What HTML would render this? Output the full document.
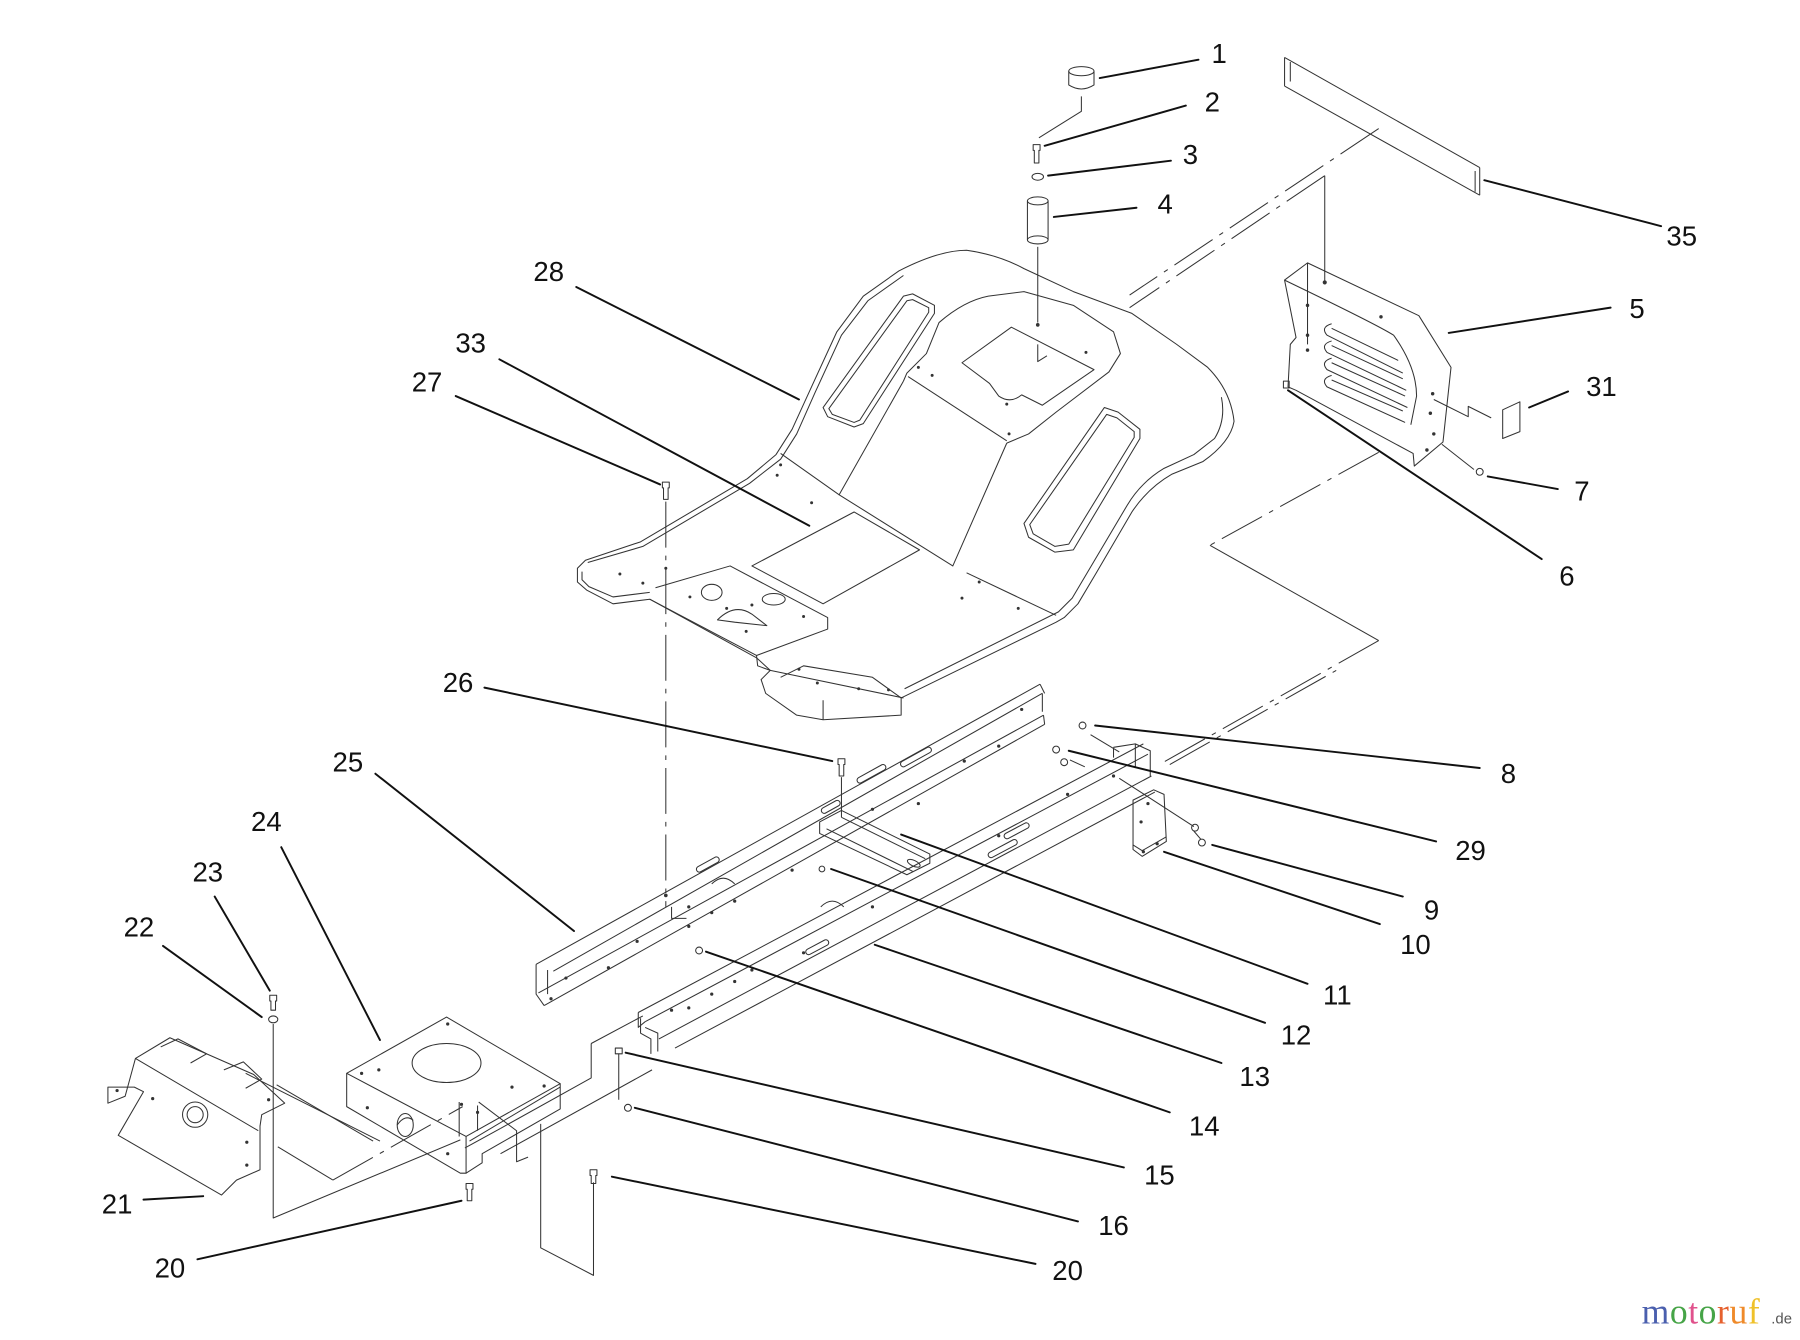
<!DOCTYPE html>
<html><head><meta charset="utf-8"><style>
html,body{margin:0;padding:0;background:#fff;}
svg{display:block;}
text{font-family:"Liberation Sans",Arial,sans-serif;fill:#111;}
</style></head><body>
<svg width="1800" height="1340" viewBox="0 0 1568 1167.3" preserveAspectRatio="none" xmlns="http://www.w3.org/2000/svg">
<rect x="0" y="0" width="1568" height="1167.3" fill="#fff"/>

<!-- ===== PARTS (thin lines) ===== -->
<g stroke="#333" stroke-width="0.9" fill="none" stroke-linejoin="round">
  <!-- Fender / seat deck 28 outer -->
  <path d="M503,495 L510,488 L558,472 L651,417 L676,396 L690,374 L706,339 L729,289 L752,258 L783,236 Q818,218 842,218 Q870,222 892,234 L935,254 L986,273 L1025,300 L1052,320 Q1072,340 1075,367 Q1072,385 1048,402 L1021,413 Q1000,425 986,446 L955,499 L939,526 L927,538 L920,542 L785,608 L785,623 L717,627 L694,623 L667,604 L663,592 L671,584 L659,573 L566,522 L534,526 L511,514 L503,507 Z"/>
  <!-- inner rim lines -->
  <path d="M512,490 L560,476 L653,421 L680,400 L694,378 L710,342 L733,292 L756,262 L787,240"/>
  <path d="M1064,346 Q1068,366 1058,382 L1040,396 L1014,408 Q994,420 982,440 L950,494 L934,521 L922,533 L788,600"/>
  <path d="M507,498 L507,505 L513,511 L534,520 L566,516"/>
  <!-- left armrest slot -->
  <path d="M717,355 L721,363 L744,372 L752,369 L814,273 L814,266 L795,256 L787,258 Z"/>
  <path d="M722,356 L725,361 L744,368 L749,366 L809,272 L809,268 L795,261 L790,262 Z"/>
  <!-- right armrest slot -->
  <path d="M892,456 L896,468 L919,481 L935,479 L993,382 L993,374 L974,359 L962,355 Z"/>
  <path d="M897,457 L900,465 L919,476 L931,474 L988,381 L988,376 L973,364 L964,361 Z"/>
  <!-- seat recess -->
  <path d="M787,332 L790,325 L807,308 L818,281 Q840,262 861,258 L892,254 L935,266 L970,289 L976,308 L966,324 L920,359 L896,378 L877,386"/>
  <path d="M838,316 L881,285 L953,322 L908,353 L890,344 Q880,352 870,345 L862,334 Z"/>
  <path d="M791,328 L877,384"/>
  <path d="M904,300 L904,315 L912,310"/>
  <!-- tunnel & floor -->
  <path d="M787,332 L731,431 L830,493 L877,386"/>
  <path d="M842,499 L920,536"/>
  <path d="M655,493 L744,446 L801,479 L717,526 Z"/>
  <path d="M680,395 L731,431"/>
  <!-- control plate -->
  <path d="M571,512 L636,493 L721,538 L721,548 L659,571 L566,522"/>
  <ellipse cx="620" cy="516" rx="9" ry="7"/>
  <ellipse cx="674" cy="522" rx="10" ry="5"/>
  <path d="M625,540 Q640,525 655,535 L668,545 L640,542 Z"/>
  <path d="M659,571 L660,580 L671,584"/>
  <path d="M671,584 L787,608"/>
  <path d="M717,610 L717,627"/>
  <path d="M680,590 L700,580 L760,590 L785,608"/>
  <!-- dots on fender -->
  <g fill="#333" stroke="none">
    <circle cx="680" cy="405" r="1.3"/><circle cx="677" cy="414" r="1.3"/><circle cx="707" cy="438" r="1.3"/>
    <circle cx="800" cy="320" r="1.3"/><circle cx="812" cy="327" r="1.3"/><circle cx="879" cy="378" r="1.3"/><circle cx="877" cy="352" r="1.3"/>
    <circle cx="853" cy="507" r="1.3"/><circle cx="887" cy="530" r="1.3"/><circle cx="838" cy="521" r="1.3"/>
    <circle cx="540" cy="500" r="1.3"/><circle cx="560" cy="508" r="1.3"/><circle cx="580" cy="495" r="1.3"/><circle cx="601" cy="520" r="1.3"/>
    <circle cx="655" cy="527" r="1.3"/><circle cx="633" cy="530" r="1.3"/><circle cx="650" cy="550" r="1.3"/><circle cx="700" cy="537" r="1.3"/>
    <circle cx="696" cy="583" r="1.3"/><circle cx="712" cy="595" r="1.3"/><circle cx="748" cy="600" r="1.3"/><circle cx="774" cy="601" r="1.3"/>
    <circle cx="904" cy="283" r="1.6"/><circle cx="946" cy="307" r="1.3"/>
    <circle cx="1154" cy="246" r="1.8"/>
  </g>

  <!-- Item 1 knob -->
  <ellipse cx="942" cy="62" rx="11" ry="4"/>
  <path d="M931,62 L931,74 Q942,81 953,74 L953,62"/>
  <path d="M942,84 L942,97 L905,120"/>
  <!-- item 2 bolt -->
  <path d="M900,126 L906,126 L906,131 L905,131 L905,142 L901,142 L901,131 L900,131 Z"/>
  <!-- item 3 washer -->
  <ellipse cx="904" cy="154" rx="5" ry="3"/>
  <!-- item 4 spacer -->
  <ellipse cx="904" cy="175" rx="9" ry="3.5"/>
  <path d="M895,175 L895,209 M913,175 L913,209"/>
  <ellipse cx="904" cy="209" rx="9" ry="3.5"/>
  <path d="M904,215 L904,281"/>

  <!-- Item 35 bar -->
  <path d="M1119,50 L1289,146 M1119,75 L1289,170 M1119,50 L1119,75 M1124,54 L1124,71 M1289,146 L1289,170 M1285,149 L1285,167"/>
  <!-- dash dot lines top -->
  <path d="M1201,112 L984,257" stroke-dasharray="40 7 4 7"/>
  <path d="M1154,153 L984,268" stroke-dasharray="40 7 4 7"/>
  <path d="M1154,153 L1154,245"/>

  <!-- Item 5 seat back shield -->
  <path d="M1119,244 L1139,229 L1236,275 L1264,320 L1257,385 L1232,406 L1231,395 L1129,340 L1122,337 L1124,300 L1129,294 Z"/>
  <path d="M1119,244 Q1200,283 1214,292 Q1234,320 1234,345 L1229,370"/>
  <path d="M1139,229 L1139,300"/>
  <g>
    <path d="M1160,282 Q1150,285 1156,292 L1222,325"/>
    <path d="M1160,297 Q1150,300 1156,307 L1225,340"/>
    <path d="M1160,312 Q1150,315 1156,322 L1226,355"/>
    <path d="M1160,327 Q1150,330 1156,337 L1224,368"/>
    <path d="M1160,286 L1218,314 M1160,301 L1222,330 M1160,316 L1224,345 M1160,331 L1222,358"/>
  </g>
  <g fill="#333" stroke="none">
    <circle cx="1139" cy="266" r="1.5"/><circle cx="1203" cy="276" r="1.5"/><circle cx="1139" cy="292" r="1.5"/><circle cx="1139" cy="305" r="1.5"/>
    <circle cx="1248" cy="343" r="1.5"/><circle cx="1246" cy="360" r="1.5"/><circle cx="1249" cy="378" r="1.5"/><circle cx="1243" cy="392" r="1.5"/>
  </g>
  <rect x="1118" y="332" width="5" height="6"/>
  <!-- zigzag & 31 decal -->
  <path d="M1249,348 L1279,363 L1279,354 L1299,364"/>
  <path d="M1309,357 L1324,350 L1324,376 L1309,382 Z"/>
  <!-- item 7 -->
  <path d="M1256,387 L1284,409"/>
  <circle cx="1289" cy="411" r="3"/>
  <!-- lower dash dot -->
  <path d="M1201,394 L1054,475" stroke-dasharray="40 7 4 7"/>
  <path d="M1054,475 L1201,558"/>
  <path d="M1201,558 L1010,666" stroke-dasharray="40 7 4 7"/>

  <!-- vertical dash-dot from 27 -->
  <path d="M580,437 L580,790" stroke-dasharray="40 7 4 7"/>
  <path d="M577,420 L583,420 L583,425 L582,425 L582,435 L578,435 L578,425 L577,425 Z"/>

  <!-- Rail 25 -->
  <path d="M467,840 L906,596 M482,846 L908,604 M469,865 L909,623 M474,876 L910,631 M467,840 L467,866 L474,876 M906,596 L910,604 M908,604 L908,620 M909,623 L910,631"/>
  <path d="M477,866 L477,845"/>
  <path d="M585,790 L585,800 L598,800 M620,770 Q630,760 640,770"/>
  <!-- rail slots -->
  <g transform="rotate(-29 700 720)">
    <rect x="600" y="706" width="22" height="5" rx="2.5"/>
    <rect x="760" y="706" width="28" height="5" rx="2.5"/>
    <rect x="800" y="712" width="30" height="5" rx="2.5"/>
    <rect x="720" y="714" width="18" height="5" rx="2.5"/>
  </g>
  <g fill="#333" stroke="none">
    <circle cx="480" cy="870" r="1.4"/><circle cx="493" cy="852" r="1.4"/><circle cx="530" cy="843" r="1.4"/><circle cx="555" cy="820" r="1.4"/>
    <circle cx="600" cy="807" r="1.4"/><circle cx="640" cy="785" r="1.4"/><circle cx="690" cy="758" r="1.4"/><circle cx="760" cy="705" r="1.4"/>
    <circle cx="800" cy="700" r="1.4"/><circle cx="840" cy="663" r="1.4"/><circle cx="870" cy="650" r="1.4"/><circle cx="890" cy="618" r="1.4"/>
    <circle cx="580" cy="780" r="1.6"/><circle cx="600" cy="790" r="1.4"/><circle cx="620" cy="795" r="1.4"/>
  </g>

  <!-- Cross member 11 -->
  <path d="M714,716 L733,706 L810,744 L810,752 L790,762 L714,726 Z"/>
  <path d="M720,722 L795,759 M733,712 L806,748"/>
  <ellipse cx="796" cy="752" rx="6" ry="2.5" transform="rotate(25 796 752)"/>
  <!-- bolt 26 -->
  <path d="M730,661 L736,661 L736,666 L735,666 L735,676 L731,676 L731,666 L730,666 Z"/>
  <path d="M733,677 L733,712"/>
  <circle cx="716" cy="757" r="2.5"/>
  <circle cx="609" cy="828" r="3"/>

  <!-- Right rail 13 -->
  <path d="M556,882 L996,648 M562,890 L1000,657 M574,905 L1003,676 M588,913 L1006,690"/>
  <path d="M556,882 L556,895 L562,890"/>
  <g transform="rotate(-28 800 780)">
    <rect x="690" y="776" width="22" height="5" rx="2.5"/>
    <rect x="870" y="776" width="28" height="5" rx="2.5"/>
    <rect x="890" y="768" width="24" height="5" rx="2.5"/>
  </g>
  <path d="M715,790 Q725,780 735,790"/>
  <g fill="#333" stroke="none">
    <circle cx="585" cy="880" r="1.4"/><circle cx="600" cy="878" r="1.4"/><circle cx="620" cy="866" r="1.4"/><circle cx="640" cy="855" r="1.4"/>
    <circle cx="655" cy="845" r="1.4"/><circle cx="700" cy="830" r="1.4"/><circle cx="760" cy="790" r="1.4"/><circle cx="870" cy="728" r="1.4"/>
    <circle cx="930" cy="692" r="1.4"/><circle cx="970" cy="676" r="1.4"/>
  </g>
  <!-- small clip at 15 -->
  <path d="M558,887 L558,900 L567,905 L567,918 M562,895 L573,900 L573,916"/>
  <!-- rear post near 8 -->
  <path d="M970,651 L989,648 L1002,654 L1002,676 M989,648 L989,668 M970,651 L970,660"/>
  <path d="M950,640 L975,655"/>
  <path d="M932,662 L945,668"/>

  <!-- nuts/bolts right -->
  <circle cx="943" cy="632" r="3"/>
  <circle cx="920" cy="653" r="3"/>
  <circle cx="927" cy="664" r="3"/>
  <!-- bracket 10 -->
  <path d="M987,697 L1005,688 L1014,692 L1016,733 L995,746 L987,740 Z"/>
  <path d="M987,736 L995,741 L1016,729"/>
  <g fill="#333" stroke="none"><circle cx="1000" cy="700" r="1.4"/><circle cx="994" cy="716" r="1.4"/><circle cx="1008" cy="735" r="1.4"/><circle cx="996" cy="742" r="1.4"/></g>
  <path d="M975,678 L1040,720"/>
  <circle cx="1041" cy="721" r="3"/>
  <circle cx="1047" cy="734" r="3"/>
  <path d="M1040,724 L1046,731"/>
  <!-- dash dot from rail to frame -->
  <path d="M1019,666 L1164,584" stroke-dasharray="40 7 4 7"/>

  <!-- ghost outline & lower lines -->
  <path d="M515,909 L560,885"/>
  <path d="M515,909 L515,939 L436,983"/>
  <path d="M436,1005 L568,932"/>
  <path d="M405,1000 L436,983"/>
  <path d="M471,979 L471,1087 L517,1111 L517,1030"/>
  <path d="M514,1019 L520,1019 L520,1024 L519,1024 L519,1031 L515,1031 L515,1024 L514,1024 Z"/>
  <path d="M536,913 L542,913 L542,918 L536,918 Z M539,918 L539,958"/>
  <circle cx="547" cy="965" r="3"/>

  <!-- Part 24 engine plate box -->
  <path d="M302,935 L389,886 L488,944 L406,990 Z"/>
  <path d="M302,935 L302,964 L401,1022 L406,1022 L406,990"/>
  <path d="M406,1022 L420,1013 L420,1005 L488,966 L488,944"/>
  <path d="M488,947 L409,994"/>
  <ellipse cx="389" cy="926" rx="30" ry="17"/>
  <ellipse cx="353" cy="980" rx="7" ry="10"/>
  <path d="M346,980 Q353,970 360,976"/>
  <g fill="#333" stroke="none">
    <circle cx="390" cy="892" r="1.4"/><circle cx="315" cy="935" r="1.4"/><circle cx="330" cy="932" r="1.4"/><circle cx="446" cy="947" r="1.4"/>
    <circle cx="474" cy="946" r="1.4"/><circle cx="402" cy="962" r="1.4"/><circle cx="416" cy="969" r="1.4"/><circle cx="320" cy="965" r="1.4"/><circle cx="390" cy="1005" r="1.4"/>
  </g>
  <path d="M400,960 L400,990 M416,963 L416,985"/>
  <!-- bolt 20L -->
  <path d="M406,1031 L412,1031 L412,1036 L411,1036 L411,1046 L407,1046 L407,1036 L406,1036 Z"/>
  <path d="M417,960 L450,985 L450,1012 L460,1008"/>

  <!-- Part 21 -->
  <path d="M94,947 L94,961 L109,955 L118,922 L148,904 L221,936 L248,961 L228,971 L226.5,981 L226.5,1019 L206,1028 L193,1041 L103,989 L125,951 L117,947 Z"/>
  <path d="M118,922 L225,985 M140,912 L155,905 L180,918 L166,926 M195,932 L212,925 L228,940 L214,948"/>
  <circle cx="170" cy="971" r="11"/>
  <circle cx="170" cy="971" r="7"/>
  <g fill="#333" stroke="none"><circle cx="102" cy="950" r="1.4"/><circle cx="133" cy="957" r="1.4"/><circle cx="234" cy="958" r="1.4"/><circle cx="215" cy="995" r="1.4"/><circle cx="215" cy="1015" r="1.4"/></g>
  <path d="M214,935 L331,994"/>
  <path d="M241,945 L325,994"/>
  <path d="M242,999 L290,1028"/>
  <path d="M290,1028 L403,964" stroke-dasharray="40 7 4 7"/>
  <!-- bolt 23 & washer 22 -->
  <path d="M235,867 L241,867 L241,872 L240,872 L240,880 L236,880 L236,872 L235,872 Z"/>
  <ellipse cx="238" cy="888" rx="4" ry="3"/>
  <path d="M238,892 L238,1061 L401,993"/>
</g>

<!-- ===== LEADER LINES ===== -->
<g stroke="#111" stroke-width="1.7" fill="none" stroke-linecap="round">
  <path d="M958,68 L1044,52"/>
  <path d="M910,127 L1033,92"/>
  <path d="M913,153 L1020,140"/>
  <path d="M918,189 L990,181"/>
  <path d="M1293,157 L1447,197"/>
  <path d="M502,250 L696,348"/>
  <path d="M1262,290 L1403,268"/>
  <path d="M435,313 L705,458"/>
  <path d="M397,345 L575,422"/>
  <path d="M1332,355 L1366,341"/>
  <path d="M1296,415 L1357,426"/>
  <path d="M1122,340 L1343,487"/>
  <path d="M422,599 L725,663"/>
  <path d="M327,674 L500,811"/>
  <path d="M954,632 L1289,669"/>
  <path d="M931,654 L1251,733"/>
  <path d="M1056,736 L1222,781"/>
  <path d="M1014,742 L1202,805"/>
  <path d="M785,727 L1139,857"/>
  <path d="M724,757 L1102,891"/>
  <path d="M762,823 L1064,926"/>
  <path d="M615,829 L1019,969"/>
  <path d="M545,917 L979,1017"/>
  <path d="M553,965 L939,1064"/>
  <path d="M533,1025 L902,1101"/>
  <path d="M172,1097 L402,1046"/>
  <path d="M125,1045 L177,1042"/>
  <path d="M142,824 L228,886"/>
  <path d="M187,781 L235,863"/>
  <path d="M245,738 L331,906"/>
</g>

<!-- ===== LABELS ===== -->
<g font-size="24" text-anchor="middle">
  <text x="1062" y="55">1</text>
  <text x="1056" y="97">2</text>
  <text x="1037" y="143">3</text>
  <text x="1015" y="186">4</text>
  <text x="1465" y="214">35</text>
  <text x="478" y="245">28</text>
  <text x="1426" y="277">5</text>
  <text x="410" y="307">33</text>
  <text x="372" y="341">27</text>
  <text x="1395" y="345">31</text>
  <text x="1378" y="436">7</text>
  <text x="1365" y="510">6</text>
  <text x="399" y="603">26</text>
  <text x="303" y="672">25</text>
  <text x="1314" y="682">8</text>
  <text x="232" y="724">24</text>
  <text x="1281" y="749">29</text>
  <text x="181" y="768">23</text>
  <text x="1247" y="801">9</text>
  <text x="121" y="816">22</text>
  <text x="1233" y="831">10</text>
  <text x="1165" y="875">11</text>
  <text x="1129" y="910">12</text>
  <text x="1093" y="946">13</text>
  <text x="1049" y="989">14</text>
  <text x="1010" y="1032">15</text>
  <text x="102" y="1057">21</text>
  <text x="970" y="1076">16</text>
  <text x="148" y="1113">20</text>
  <text x="930" y="1115">20</text>
</g>

<!-- watermark -->
<text x="1430" y="1153" font-size="31" style="font-family:'Liberation Serif',serif;" letter-spacing="0.5"><tspan fill="#4a5fae">m</tspan><tspan fill="#46a447">o</tspan><tspan fill="#e0528c">t</tspan><tspan fill="#46a447">o</tspan><tspan fill="#e6612e">r</tspan><tspan fill="#ef8a2a">u</tspan><tspan fill="#efc12a">f</tspan></text>
<text x="1543" y="1153" font-size="13" style="font-family:'Liberation Sans',sans-serif;fill:#555;">.de</text>
</svg>
</body></html>
